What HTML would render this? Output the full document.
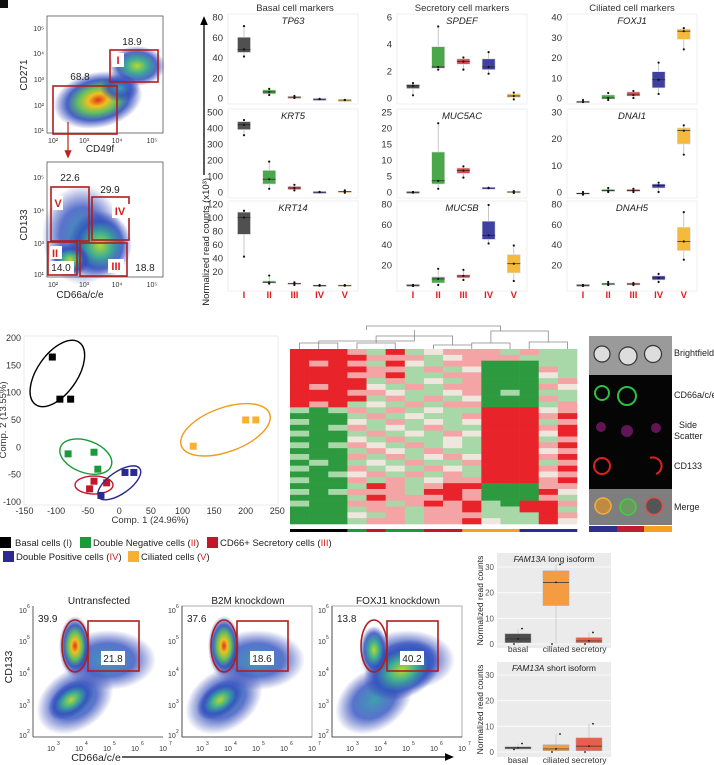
<!DOCTYPE html>
<html><head><meta charset="utf-8">
<style>
html,body{margin:0;padding:0;background:#fff;}
svg{display:block;font-family:"Liberation Sans",Arial,sans-serif;}
</style></head>
<body>
<svg id="fig" width="714" height="765" viewBox="0 0 714 765" xmlns="http://www.w3.org/2000/svg">
<defs>
<radialGradient id="dens" cx="50%" cy="50%" r="50%">
<stop offset="0%" stop-color="#e0301c"/>
<stop offset="22%" stop-color="#f0c020"/>
<stop offset="45%" stop-color="#60c060"/>
<stop offset="70%" stop-color="#3050c0" stop-opacity="0.9"/>
<stop offset="100%" stop-color="#3040b0" stop-opacity="0"/>
</radialGradient>
<radialGradient id="densLow" cx="50%" cy="50%" r="50%">
<stop offset="0%" stop-color="#b8d830"/>
<stop offset="35%" stop-color="#40b090"/>
<stop offset="70%" stop-color="#3050c0" stop-opacity="0.85"/>
<stop offset="100%" stop-color="#3040b0" stop-opacity="0"/>
</radialGradient>
<radialGradient id="densBlue" cx="50%" cy="50%" r="50%">
<stop offset="0%" stop-color="#40a0b0"/>
<stop offset="55%" stop-color="#3050c0" stop-opacity="0.8"/>
<stop offset="100%" stop-color="#3040b0" stop-opacity="0"/>
</radialGradient>
<marker id="arrowHead" markerWidth="8" markerHeight="8" refX="4" refY="4" orient="auto"><path d="M0,1 L7,4 L0,7 z" fill="#000"/></marker>
<marker id="arrowRed" markerWidth="8" markerHeight="8" refX="4" refY="4" orient="auto"><path d="M0,1 L7,4 L0,7 z" fill="#c0201e"/></marker>
</defs>

<rect x="0" y="0" width="8" height="8" fill="#111"/>

<!-- top-left flow plot 1 -->
<g>
<rect x="47" y="16" width="116" height="117" fill="#fff" stroke="#555" stroke-width="0.8"/>
<ellipse cx="98" cy="100" rx="45" ry="28" fill="url(#dens)" transform="rotate(-12 98 100)"/>
<ellipse cx="137" cy="66" rx="28" ry="20" fill="url(#densLow)"/>
<ellipse cx="120" cy="88" rx="20" ry="14" fill="url(#densBlue)"/>
<rect x="110" y="50" width="48" height="32" fill="none" stroke="#b01e1e" stroke-width="1.6"/>
<rect x="112" y="53" width="12" height="14" fill="#fff"/>
<text x="118" y="64" font-size="11" fill="#d42020" font-weight="bold" text-anchor="middle">I</text>
<rect x="53" y="86" width="64" height="48" fill="none" stroke="#b01e1e" stroke-width="1.6"/>
<text x="132" y="45" font-size="10" fill="#222" text-anchor="middle">18.9</text>
<text x="80" y="80" font-size="10" fill="#222" text-anchor="middle">68.8</text>
<g font-size="7" fill="#333" text-anchor="end">
<text x="44" y="31">10⁵</text><text x="44" y="56">10⁴</text><text x="44" y="82">10³</text><text x="44" y="108">10²</text><text x="44" y="133">10¹</text>
</g>
<g font-size="7" fill="#333" text-anchor="middle">
<text x="53" y="143">10²</text><text x="84" y="143">10³</text><text x="117" y="143">10⁴</text><text x="152" y="143">10⁵</text>
</g>
<text x="100" y="152" font-size="10" fill="#222" text-anchor="middle">CD49f</text>
<text x="27" y="75" font-size="10" fill="#222" text-anchor="middle" transform="rotate(-90 27 75)">CD271</text>
<line x1="68" y1="122" x2="68" y2="155" stroke="#c0201e" stroke-width="1.2" marker-end="url(#arrowRed)"/>
</g>

<!-- top-left flow plot 2 -->
<g>
<rect x="47" y="162" width="116" height="115" fill="#fff" stroke="#555" stroke-width="0.8"/>
<ellipse cx="82" cy="235" rx="40" ry="50" fill="url(#densBlue)"/>
<ellipse cx="100" cy="245" rx="32" ry="34" fill="url(#densLow)"/>
<ellipse cx="70" cy="260" rx="20" ry="16" fill="url(#densLow)"/>
<rect x="51" y="187" width="38" height="54" fill="none" stroke="#b01e1e" stroke-width="1.6"/>
<rect x="92" y="197" width="37" height="43" fill="none" stroke="#b01e1e" stroke-width="1.6"/>
<rect x="48" y="242" width="29" height="33" fill="none" stroke="#b01e1e" stroke-width="1.6"/>
<rect x="80" y="243" width="47" height="33" fill="none" stroke="#b01e1e" stroke-width="1.6"/>
<rect x="53" y="196" width="10" height="14" fill="#fff"/><text x="58" y="207" font-size="11" fill="#d42020" font-weight="bold" text-anchor="middle">V</text>
<rect x="112" y="204" width="18" height="14" fill="#fff"/><text x="120" y="215" font-size="11" fill="#d42020" font-weight="bold" text-anchor="middle">IV</text>
<rect x="50" y="246" width="12" height="13" fill="#fff"/><text x="55" y="257" font-size="11" fill="#d42020" font-weight="bold" text-anchor="middle">II</text>
<rect x="108" y="259" width="16" height="14" fill="#fff"/><text x="116" y="270" font-size="11" fill="#d42020" font-weight="bold" text-anchor="middle">III</text>
<rect x="50" y="261" width="24" height="13" fill="#fff"/><text x="61" y="271" font-size="10" fill="#222" text-anchor="middle">14.0</text>
<text x="70" y="181" font-size="10" fill="#222" text-anchor="middle">22.6</text>
<text x="110" y="193" font-size="10" fill="#222" text-anchor="middle">29.9</text>
<text x="145" y="271" font-size="10" fill="#222" text-anchor="middle">18.8</text>
<g font-size="7" fill="#333" text-anchor="end">
<text x="44" y="180">10⁵</text><text x="44" y="213">10⁴</text><text x="44" y="246">10³</text><text x="44" y="277">10¹</text>
</g>
<g font-size="7" fill="#333" text-anchor="middle">
<text x="53" y="287">10²</text><text x="84" y="287">10³</text><text x="117" y="287">10⁴</text><text x="152" y="287">10⁵</text>
</g>
<text x="80" y="298" font-size="10" fill="#222" text-anchor="middle">CD66a/c/e</text>
<text x="27" y="225" font-size="10" fill="#222" text-anchor="middle" transform="rotate(-90 27 225)">CD133</text>
</g>

<!-- Box plot grid -->
<g id="boxgrid">
<text x="295" y="11" font-size="9.5" fill="#333" text-anchor="middle">Basal cell markers</text>
<text x="462" y="11" font-size="9.5" fill="#333" text-anchor="middle">Secretory cell markers</text>
<text x="632" y="11" font-size="9.5" fill="#333" text-anchor="middle">Ciliated cell markers</text>
<line x1="204" y1="175" x2="204" y2="20" stroke="#000" stroke-width="1.3" marker-end="url(#arrowHead)"/>
<text x="209" y="178" font-size="9.5" fill="#222" text-anchor="end" transform="rotate(-90 209 178)">Normalized read counts (x10³)</text>
</g>

<!-- PCA -->
<g id="pca">
<text x="150" y="523" font-size="9.5" fill="#333" text-anchor="middle">Comp. 1 (24.96%)</text>
<text x="6" y="420" font-size="9.5" fill="#333" text-anchor="middle" transform="rotate(-90 6 420)">Comp. 2 (13.55%)</text>
</g>

<!-- Heatmap -->
<g id="heat"></g>

<!-- Microscopy -->
<g>
<rect x="589" y="336" width="83" height="39" fill="#9a9a9a"/>
<rect x="589" y="375" width="83" height="114" fill="#050505"/>
<rect x="589" y="489" width="83" height="36" fill="#7e7e7e"/>
<g fill="#ddd" stroke="#333" stroke-width="1.2">
<circle cx="602" cy="354" r="8"/><circle cx="628" cy="356" r="9"/><circle cx="653" cy="354" r="8.5"/>
</g>
<g fill="none" stroke="#2fbf3f" stroke-width="2"><circle cx="602" cy="393" r="7"/><circle cx="627" cy="396" r="9"/></g>
<g fill="#a0208a" opacity="0.6"><circle cx="601" cy="427" r="5"/><circle cx="627" cy="431" r="6"/><circle cx="656" cy="428" r="5"/></g>
<g fill="none" stroke="#e02020" stroke-width="2"><circle cx="602" cy="466" r="8"/><path d="M650,458 A8,8 0 0 1 656,474"/></g>
<circle cx="603" cy="506" r="8" fill="#c08a40" stroke="#f0b040" stroke-width="1.5"/>
<circle cx="628" cy="507" r="8" fill="#6a9a60" stroke="#40d040" stroke-width="1.5"/>
<circle cx="654" cy="506" r="8.5" fill="#555" stroke="#e05050" stroke-width="1.5"/>
<rect x="589" y="526" width="28" height="6" fill="#2e2e8c"/>
<rect x="617" y="526" width="27" height="6" fill="#c01e2e"/>
<rect x="644" y="526" width="28" height="6" fill="#f5a020"/>
<g font-size="9" fill="#222">
<text x="674" y="356">Brightfield</text>
<text x="674" y="398">CD66a/c/e</text>
<text x="679" y="428">Side</text>
<text x="674" y="439">Scatter</text>
<text x="674" y="469">CD133</text>
<text x="674" y="510">Merge</text>
</g>
</g>

<!-- Legend -->
<g font-size="9.5" fill="#222">
<g><rect x="0" y="537" width="11" height="11" fill="#000"/><text x="15" y="546">Basal cells (<tspan fill="#e01e1e">I</tspan>)</text></g>
<g><rect x="80" y="537" width="11" height="11" fill="#1a9a3a"/><text x="93" y="546">Double Negative cells (<tspan fill="#e01e1e">II</tspan>)</text></g>
<g><rect x="207" y="537" width="11" height="11" fill="#c0182a"/><text x="220" y="546">CD66+ Secretory cells (<tspan fill="#e01e1e">III</tspan>)</text></g>
<g><rect x="3" y="551" width="11" height="11" fill="#2c2a8c"/><text x="16" y="560">Double Positive cells (<tspan fill="#e01e1e">IV</tspan>)</text></g>
<g><rect x="128" y="551" width="11" height="11" fill="#f8b030"/><text x="141" y="560">Ciliated cells (<tspan fill="#e01e1e">V</tspan>)</text></g>
</g>

<!-- bottom flow plots -->
<g id="flowBottom">
<text x="12" y="667" font-size="10.5" fill="#222" text-anchor="middle" transform="rotate(-90 12 667)">CD133</text>
<text x="96" y="761" font-size="10.5" fill="#222" text-anchor="middle">CD66a/c/e</text>
<line x1="122" y1="757" x2="450" y2="757" stroke="#000" stroke-width="1.3" marker-end="url(#arrowHead)"/>
</g>

<!-- FAM13A -->
<g id="fam"></g>
</svg>

<script>
var NS = "http://www.w3.org/2000/svg";
function mk(tag, attrs, parent, txt) {
  var e = document.createElementNS(NS, tag);
  for (var k in attrs) e.setAttribute(k, attrs[k]);
  if (txt !== undefined) e.textContent = txt;
  parent.appendChild(e);
  return e;
}

/* ---------- marker box-plot data: [min, q1, median, q3, max] for groups I..V ---------- */
var groupLabels = ["I", "II", "III", "IV", "V"];
var groupColors = ["#505050", "#4aa84a", "#d9494f", "#4040a0", "#f5b93b"];
var geneNames = ["TP63", "SPDEF", "FOXJ1", "KRT5", "MUC5AC", "DNAI1", "KRT14", "MUC5B", "DNAH5"];
var TP63 = [[41,45,48,60,71],[3,4,6,8,9],[0,0,1,1,2],[-1,-1,-1,-1,-1],[-2,-2,-2,-2,-2]];
var SPDEF = [[0.2,0.7,0.9,1.0,1.1],[2.1,2.2,2.3,3.8,5.3],[2.1,2.5,2.7,2.9,3.0],[1.8,2.1,2.3,2.9,3.4],[-0.1,0.05,0.15,0.3,0.4]];
var FOXJ1 = [[-2,-2,-2,-1.5,-1],[-1,-0.5,0,1.5,2.5],[0,1,1.5,3,3.5],[2,5,9,13,17.5],[24,29,33,34,34.5]];
var KRT5 = [[355,390,420,440,450],[20,50,80,135,190],[10,15,25,35,45],[0,0,0,0,0],[-5,0,3,5,10]];
var MUC5AC = [[-0.2,-0.1,0,0,0],[1,2.5,3.5,12.5,21.5],[4.5,5.8,6.7,7.5,8],[1.2,1.3,1.3,1.3,1.3],[-0.3,-0.2,0,0.2,0.3]];
var DNAI1 = [[-1,-0.8,-0.5,-0.3,0],[0,0.2,0.5,1,1.5],[0,0.2,0.5,1,1.2],[0,1.5,2.5,3,3.5],[14,18,23,24,25]];
var KRT14 = [[42,75,100,108,110],[2,3,4,6,14],[0,1,2,3,4],[-1,-1,-1,0,0],[-1,-1,-1,0,0]];
var MUC5B = [[-1,-1,0,0,0],[0,2,6,8,16],[5,7,9,10,15],[41,45,49,63,79],[4,12,21,30,39]];
var DNAH5 = [[-1,-1,0,0,0],[0,0,1,2,3],[0,0,1,2,2],[3,5,7,9,11],[25,34,43,57,72]];
var geneData = [TP63, SPDEF, FOXJ1, KRT5, MUC5AC, DNAI1, KRT14, MUC5B, DNAH5];
var geneTicks = [[0,20,40,60,80],[0,2,4,6],[0,10,20,30,40],[0,100,200,300,400,500],[0,5,10,15,20,25],[0,10,20,30],[20,40,60,80,100,120],[20,40,60,80],[20,40,60,80]];

/* ---------- PCA data ---------- */
var pcaGroups = ["basal", "double-negative", "secretory", "double-positive", "ciliated"];
var pcaColors = ["#000000", "#1a9a3a", "#c0182a", "#2c2a8c", "#f8b030"];
var pcaX = [[-106,-94,-77],[-81,-40,-34],[-40,-47,-20],[9,23,-29],[117,200,216]];
var pcaY = [[165,88,88],[-12,-9,-40],[-62,-76,-65],[-46,-46,-88],[2,50,50]];
var ellipseCX = [-98,-53,-40,0,168];
var ellipseCY = [135,-17,-69,-65,32];
var pcaXTicks = [-150,-100,-50,0,50,100,150,200,250];
var pcaYTicks = [-100,-50,0,50,100,150,200];

/* ---------- heatmap data: G strong green, g light green, w white, r light red, R strong red ---------- */
var heatRows = [
"RRRrgRgwrrrgrgg","RRRRrrrgwrrrggg","RrRrgRwgrrGGGgg","RRRRrrgrgwGGGrg","RRRrrRggrrGGGwg",
"RRRRgrgwgrGGGgr","RrRRwgrgrrGGGrw","RRRrrwggwrGgGgg","RRRRgrgrgwGGGrg","RrRgwgrgrrGGGgr",
"gGgrgrgwggRRRwr","GGGgrgwggrRRRrR","gGGwgrgwgwRRRgr","GGgrgwgrggRRRrR","gGGgrgwgrwRRRwR",
"GGGwgrggwgRRRgr","gGgrwgrgwgRRRrR","GGGgrwgrggRRRwr","gGGrgrgwrwRRRrR","GgGgwgrggrRRRgr",
"gGGrgwgrwgRRRrR","GGgwrgrgrgRRRwr","gGGrgrgwrrRRRrR","GGGgRrgrRRGGGrr","gGgrrrgRRrGGGRw",
"GGGgRrrrRrGGGrg","gGGrrgrRrRgGRRr","GGGgrrgrrRggRRg","GGGwgrgrrrgggRr","GGGgrrgrrRwggRw"];
var heatColGroups = [0,0,0,1,2,1,1,2,2,4,4,4,3,3,3];

/* ---------- bottom flow data ---------- */
var flowTitles = ["Untransfected", "B2M knockdown", "FOXJ1 knockdown"];
var flowLeftPct = ["39.9", "37.6", "13.8"];
var flowGatePct = ["21.8", "18.6", "40.2"];

/* ---------- FAM13A data ---------- */
var famCats = ["basal", "ciliated", "secretory"];
var famColors = ["#4d4d4d", "#f59c43", "#e8604a"];
var famLong = [[0,0.5,2,4,6],[0,15,24,28.5,31],[0,0.5,1.2,2.5,4.5]];
var famShort = [[1,1.2,1.6,2,3.3],[0,0.5,1.2,2.8,7],[0,0.5,2.3,5.5,11]];
var famTicks = [0,10,20,30];

/* ===== render marker box plots ===== */
(function(){
  var g = document.getElementById("boxgrid");
  var colX = [228, 397, 567];
  var colW = 130;
  var rowTop = [17, 112, 204];
  var rowZero = [98, 192, 285];
  var rowMax = [80, 6, 40, 500, 25, 30, 120, 80, 80];
  for (var i = 0; i < 9; i++) {
    var r = Math.floor(i / 3), c = i % 3;
    var x0 = colX[c], top = rowTop[r], zero = rowZero[r], vmax = rowMax[i];
    var ys = (function(top, zero, vmax){ return function(v){ return zero - (zero - top) * v / vmax; }; })(top, zero, vmax);
    var xs = (function(x0){ return function(k){ return x0 + 16 + 25.2 * k; }; })(x0);
    var panel = mk("g", {}, g);
    
    
    mk("rect", {x: x0, y: top - 3, width: colW, height: zero - top + 9, fill: "#fff", stroke: "#ececec", "stroke-width": 0.8}, panel);
    mk("text", {x: x0 + colW / 2, y: top + 7, "font-size": 9.5, "font-style": "italic", "text-anchor": "middle", fill: "#222"}, panel, geneNames[i]);
    var ticks = geneTicks[i];
    for (var t = 0; t < ticks.length; t++) {
      mk("text", {x: x0 - 5, y: ys(ticks[t]) + 3.5, "font-size": 9.5, "text-anchor": "end", fill: "#333"}, panel, String(ticks[t]));
    }
    var d = geneData[i];
    for (var k = 0; k < 5; k++) {
      var s = d[k], cx = xs(k);
      var bx = mk("g", {}, panel);
      
      
      mk("line", {x1: cx, x2: cx, y1: ys(s[0]), y2: ys(s[4]), stroke: "#bbb", "stroke-width": 0.8}, bx);
      var h = Math.max(1.5, ys(s[1]) - ys(s[3]));
      mk("rect", {x: cx - 6.5, y: ys(s[3]), width: 13, height: h, fill: groupColors[k], stroke: "#ddd", "stroke-width": 0.6}, bx);
      mk("line", {x1: cx - 6.5, x2: cx + 6.5, y1: ys(s[2]), y2: ys(s[2]), stroke: "#222", "stroke-width": 0.7}, bx);
      [0, 2, 4].forEach(function(q){ mk("circle", {cx: cx, cy: ys(s[q]), r: 1.1, fill: "#111"}, bx); });
    }
    if (r === 2) {
      for (var k2 = 0; k2 < 5; k2++) {
        var lab = mk("text", {x: xs(k2), y: 298, "font-size": 9.5, "font-weight": "bold", "text-anchor": "middle", fill: "#e01e1e"}, g, groupLabels[k2]);
        
        
      }
    }
  }
})();

/* ===== PCA ===== */
(function(){
  var g = document.getElementById("pca");
  function px(v){ return 119.3 + 0.632 * v; }
  function py(v){ return 447.3 - 0.547 * v; }
  mk("rect", {x: 24, y: 336, width: 254, height: 169, fill: "#fff", stroke: "#e6e6e6", "stroke-width": 0.8}, g);
  pcaXTicks.forEach(function(t){
    mk("text", {x: px(t), y: 514, "font-size": 9, "text-anchor": "middle", fill: "#333"}, g, String(t));
  });
  pcaYTicks.forEach(function(t){
    mk("text", {x: 21, y: py(t) + 3, "font-size": 9, "text-anchor": "end", fill: "#333"}, g, String(t));
  });
  var eR = [[38,20,-55],[27,16,20],[19,9,0],[25,11,-35],[47,22,-20]];
  for (var k = 0; k < 5; k++) {
    var ex = px(ellipseCX[k]), ey = py(ellipseCY[k]);
    var el = mk("ellipse", {cx: ex, cy: ey, rx: eR[k][0], ry: eR[k][1], fill: "none", stroke: pcaColors[k] === "#f8b030" ? "#f39a1a" : pcaColors[k], "stroke-width": 1.4, transform: "rotate(" + eR[k][2] + " " + ex + " " + ey + ")"}, g);
    
    
    for (var j = 0; j < pcaX[k].length; j++) {
      var p = mk("rect", {x: px(pcaX[k][j]) - 3.5, y: py(pcaY[k][j]) - 3.5, width: 7, height: 7, fill: pcaColors[k]}, g);
      
      
    }
  }
})();

/* ===== Heatmap ===== */
(function(){
  var g = document.getElementById("heat");
  var x0 = 290, y0 = 349, W = 287, H = 175;
  var nC = 15, nR = heatRows.length, cw = W / nC, rh = H / nR;
  var cmap = {G: "#2e9a40", g: "#a8d8a8", w: "#efe6dd", r: "#f4a4a4", R: "#e8232a"};
  for (var r = 0; r < nR; r++) {
    for (var c = 0; c < nC; c++) {
      var cell = mk("rect", {x: x0 + c * cw, y: y0 + r * rh, width: cw + 0.3, height: rh + 0.3, fill: cmap[heatRows[r][c]]}, g);
      
      
    }
  }
  var barColors = ["#000", "#1a9a3a", "#c0182a", "#2c2a8c", "#f5a020"];
  for (var c2 = 0; c2 < nC; c2++) {
    mk("rect", {x: x0 + c2 * cw, y: 529, width: cw + 0.3, height: 3, fill: barColors[heatColGroups[c2]]}, g);
  }
  function cx(i){ return x0 + cw * (i + 0.5); }
  var den = mk("path", {fill: "none", stroke: "#888", "stroke-width": 0.8,
    d: "M" + cx(1) + ",349 V341 M" + cx(0) + ",349 V343 H" + cx(2) + " V349 " +
       "M" + cx(1) + ",341 H" + cx(6) + " V330 " +
       "M" + cx(3) + ",349 V343 H" + cx(5) + " V349 M" + cx(4) + ",343 V336 H" + cx(8) + " V345 M" + cx(7) + ",349 V345 H" + cx(9) + " V349 M" + cx(6) + ",336 V330 " +
       "M" + cx(3.5) + ",330 V326 H" + cx(10.5) + " V331 " +
       "M" + cx(9) + ",349 V343 H" + cx(11) + " V349 M" + cx(10) + ",343 V331 H" + cx(13) + " V342 M" + cx(12) + ",349 V342 H" + cx(14) + " V349"}, g);
  
  
})();

/* ===== Bottom flow plots ===== */
(function(){
  var g = document.getElementById("flowBottom");
  var lefts = [33, 182, 332];
  var expLabels = ["3", "4", "5", "6", "7"];
  for (var i = 0; i < 3; i++) {
    var L = lefts[i];
    var p = mk("g", {}, g);
    
    
    mk("rect", {x: L, y: 606, width: 130, height: 131, fill: "#fff", stroke: i === 0 ? "none" : "#999", "stroke-width": 0.8}, p);
    mk("line", {x1: L, y1: 606, x2: L, y2: 737, stroke: "#333", "stroke-width": 0.8}, p);
    mk("line", {x1: L, y1: 737, x2: L + 130, y2: 737, stroke: "#333", "stroke-width": 0.8}, p);
    mk("ellipse", {cx: L + 42, cy: 700, rx: 42, ry: 30, fill: "url(#densBlue)", transform: "rotate(-35 " + (L + 42) + " 700)"}, p);
    mk("ellipse", {cx: L + 75, cy: 660, rx: 48, ry: 30, fill: "url(#densBlue)"}, p);
    if (i < 2) {
      mk("ellipse", {cx: L + 38, cy: 700, rx: 26, ry: 16, fill: "url(#densLow)", transform: "rotate(-35 " + (L + 38) + " 700)"}, p);
      mk("ellipse", {cx: L + 42, cy: 646, rx: 16, ry: 30, fill: "url(#dens)"}, p);
    } else {
      mk("ellipse", {cx: L + 70, cy: 670, rx: 40, ry: 28, fill: "url(#densLow)", transform: "rotate(-25 " + (L + 70) + " 670)"}, p);
      mk("ellipse", {cx: L + 42, cy: 650, rx: 14, ry: 24, fill: "url(#densLow)"}, p);
    }
    var el = mk("ellipse", {cx: L + 42, cy: 646, rx: 13, ry: 26, fill: "none", stroke: "#b01e1e", "stroke-width": 1.6}, p);
    
    
    var gt = mk("rect", {x: L + 55, y: 621, width: 51, height: 50, fill: "none", stroke: "#b01e1e", "stroke-width": 1.6}, p);
    
    
    mk("rect", {x: L + 68, y: 651, width: 24, height: 14, fill: "#fff"}, p);
    mk("text", {x: L + 80, y: 662, "font-size": 10, "text-anchor": "middle", fill: "#222"}, p, flowGatePct[i]);
    mk("text", {x: L + 5, y: 622, "font-size": 10, fill: "#222"}, p, flowLeftPct[i]);
    var tt = mk("text", {x: L + 66, y: 604, "font-size": 10, "text-anchor": "middle", fill: "#222"}, p, flowTitles[i]);
    
    
    var yl = ["6", "5", "4", "3", "2"], yp = [610, 641, 673, 705, 735];
    for (var k = 0; k < 5; k++) {
      mk("text", {x: L - 14, y: yp[k] + 3, "font-size": 7, fill: "#333"}, p, "10");
      mk("text", {x: L - 6, y: yp[k] - 2, "font-size": 5, fill: "#333"}, p, yl[k]);
    }
    for (var k2 = 0; k2 < 5; k2++) {
      var tx = L + 18 + 28 * k2;
      mk("text", {x: tx, y: 751, "font-size": 7, "text-anchor": "middle", fill: "#333"}, p, "10");
      mk("text", {x: tx + 6, y: 745, "font-size": 5, fill: "#333"}, p, expLabels[k2]);
    }
  }
})();

/* ===== FAM13A ===== */
(function(){
  var g = document.getElementById("fam");
  var catX = [518, 556, 589];
  var panels = [{d: famLong, top: 553, bot: 648, zero: 644, y30: 567, title: "long isoform", lab: 652},
                {d: famShort, top: 662, bot: 757, zero: 752, y30: 675, title: "short isoform", lab: 763}];
  panels.forEach(function(P, pi){
    var ys = function(v){ return P.zero - (P.zero - P.y30) * v / 30; };
    var pg = mk("g", {}, g);
    
    
    mk("rect", {x: 497, y: P.top, width: 114, height: P.bot - P.top, fill: "#ebebeb"}, pg);
    famTicks.forEach(function(t){
      mk("line", {x1: 497, x2: 611, y1: ys(t), y2: ys(t), stroke: "#fff", "stroke-width": 0.8}, pg);
      mk("text", {x: 494, y: ys(t) + 3, "font-size": 8, "text-anchor": "end", fill: "#555"}, pg, String(t));
    });
    var tt = mk("text", {x: 554, y: P.top + 9, "font-size": 8.5, "text-anchor": "middle", fill: "#222"}, pg);
    mk("tspan", {"font-style": "italic"}, tt, "FAM13A");
    mk("tspan", {}, tt, " " + P.title);
    mk("text", {x: 483, y: (P.top + P.bot) / 2, "font-size": 8.5, "text-anchor": "middle", fill: "#222", transform: "rotate(-90 483 " + ((P.top + P.bot) / 2) + ")"}, pg, "Normalized read counts");
    for (var k = 0; k < 3; k++) {
      var s = P.d[k], cx = catX[k];
      var b = mk("g", {}, pg);
      
      
      mk("line", {x1: cx, x2: cx, y1: ys(s[0]), y2: ys(s[4]), stroke: "#c8c8c8", "stroke-width": 0.8}, b);
      mk("rect", {x: cx - 13, y: ys(s[3]), width: 26, height: Math.max(1.5, ys(s[1]) - ys(s[3])), fill: famColors[k], stroke: "#aaa", "stroke-width": 0.5}, b);
      mk("line", {x1: cx - 13, x2: cx + 13, y1: ys(s[2]), y2: ys(s[2]), stroke: "#333", "stroke-width": 0.7}, b);
      [0, 2, 4].forEach(function(q, j){ mk("circle", {cx: cx - 4 + 4 * j, cy: ys(s[q]), r: 0.9, fill: "#111"}, b); });
      mk("text", {x: cx, y: P.lab, "font-size": 8.5, "text-anchor": "middle", fill: "#333"}, pg, famCats[k]);
    }
  });
})();
</script>
</body></html>
